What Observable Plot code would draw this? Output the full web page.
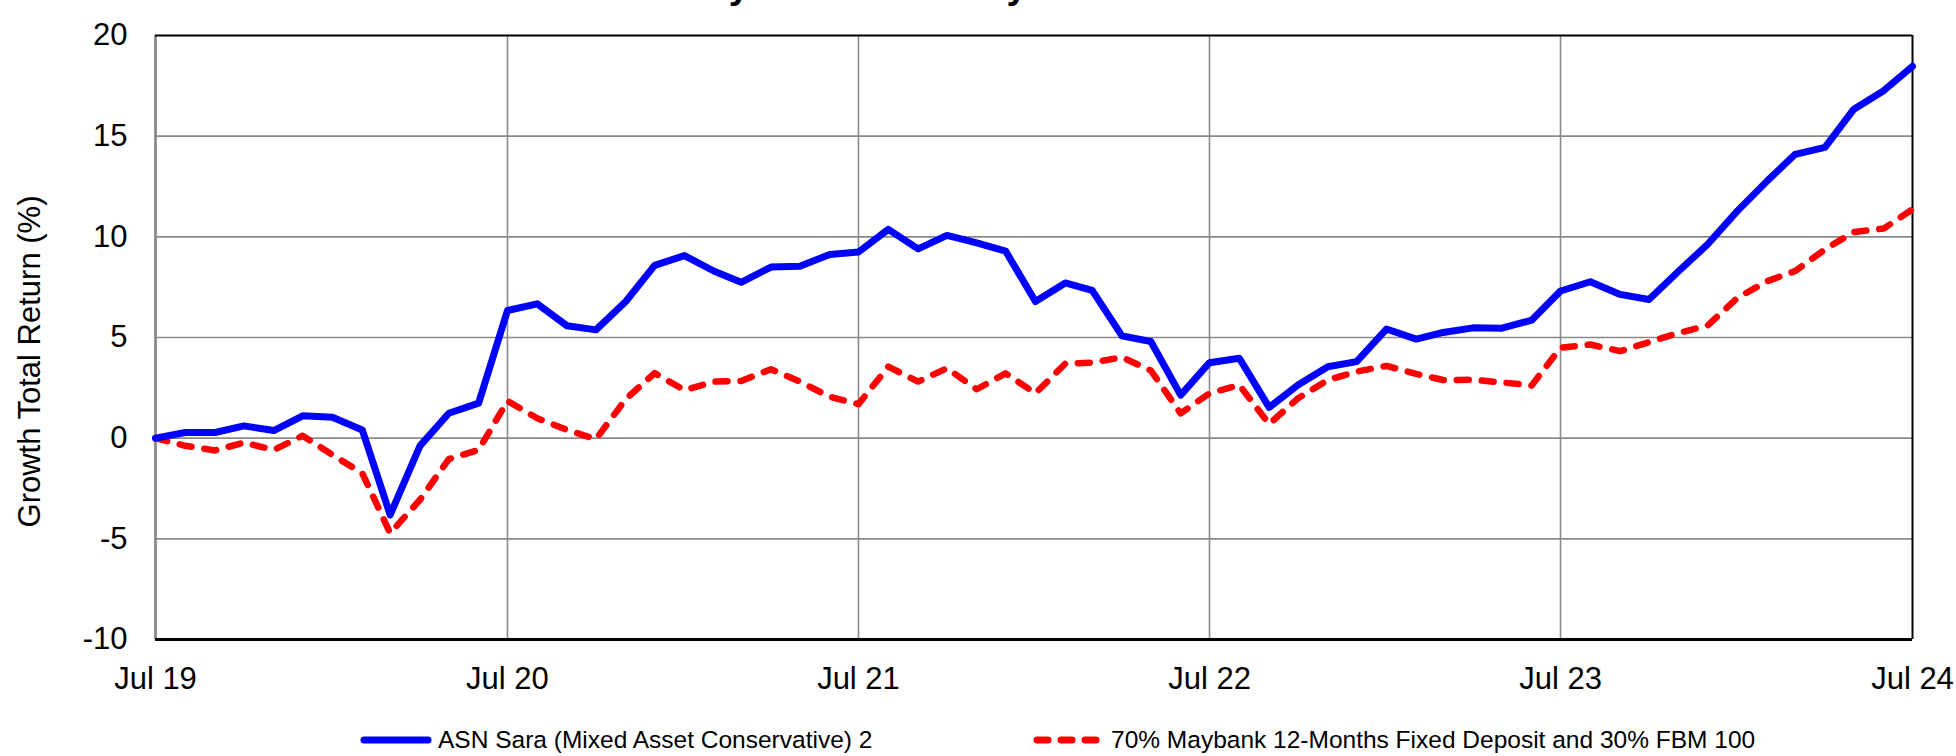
<!DOCTYPE html>
<html>
<head>
<meta charset="utf-8">
<script src="https://cdn.jsdelivr.net/npm/d3@7"></script>
<script src="https://cdn.jsdelivr.net/npm/@observablehq/plot@0.6"></script>
<style>
  html, body { margin: 0; padding: 0; background: #fff; }
  body { width: 1956px; height: 756px; position: relative; overflow: hidden;
         font-family: "Liberation Sans", Arial, sans-serif; color: #000; }
  #title { position: absolute; left: 16px; top: -33.5px; font-size: 37.6px; font-weight: bold;
           line-height: 1; white-space: nowrap; z-index: 2; }
  #chart { position: absolute; left: 0; top: 0; z-index: 1; }
  .lg { position: absolute; top: 725px; height: 30px; display: flex; align-items: center;
        font-size: 24.5px; white-space: nowrap; z-index: 2; }
  .lg svg { margin-right: 6px; }
</style>
</head>
<body>
<div id="title"></div>
<div id="chart"></div>
<div class="lg" id="lg1" style="left:360px"></div>
<div class="lg" id="lg2" style="left:1033px"></div>
<script>
// ---- data ----
const titleText = "5 Years Growth Total Return from 31 July 2019 to 31 July 2024";
const yLabel = "Growth Total Return (%)";
const seriesNames = ["ASN Sara (Mixed Asset Conservative) 2", "70% Maybank 12-Months Fixed Deposit and 30% FBM 100"];
const startMonth = new Date(Date.UTC(2019, 6, 1));
const endMonth = new Date(Date.UTC(2024, 6, 1));
const months = d3.utcMonth.range(startMonth, d3.utcMonth.offset(endMonth, 1));
const sara = [0, 0.28, 0.28, 0.61, 0.38, 1.11, 1.04, 0.41, -3.81, -0.38, 1.24, 1.74,
  6.34, 6.67, 5.58, 5.38, 6.79, 8.58, 9.07, 8.29, 7.74, 8.50, 8.54, 9.12,
  9.25, 10.37, 9.40, 10.07, 9.70, 9.29, 6.79, 7.71, 7.34, 5.08, 4.80, 2.14,
  3.75, 3.97, 1.53, 2.64, 3.55, 3.80, 5.42, 4.92, 5.25, 5.48, 5.46, 5.86,
  7.31, 7.77, 7.14, 6.89, 8.30, 9.63, 11.29, 12.78, 14.10, 14.44, 16.34, 17.26, 18.47];
const bench = [0, -0.38, -0.61, -0.22, -0.58, 0.12, -0.83, -1.74, -4.72, -3.06, -1.04, -0.58,
  1.85, 0.99, 0.41, -0.05, 1.94, 3.23, 2.39, 2.81, 2.84, 3.42, 2.81, 2.06,
  1.69, 3.55, 2.81, 3.47, 2.43, 3.22, 2.23, 3.70, 3.75, 4.02, 3.36, 1.23,
  2.23, 2.64, 0.70, 1.98, 2.89, 3.31, 3.59, 3.19, 2.89, 2.90, 2.77, 2.62,
  4.49, 4.65, 4.32, 4.77, 5.23, 5.60, 6.97, 7.80, 8.30, 9.38, 10.24, 10.41, 11.37];
const yTicks = [-10, -5, 0, 5, 10, 15, 20];
const xTicks = [2019, 2020, 2021, 2022, 2023, 2024].map(y => new Date(Date.UTC(y, 6, 1)));
const xTickLabels = ["Jul 19", "Jul 20", "Jul 21", "Jul 22", "Jul 23", "Jul 24"];
const colors = ["#0000ff", "#ff0000"];

// ---- build ----
document.getElementById("title").textContent = titleText;
const saraData = months.map((m, i) => ({date: m, value: sara[i]}));
const benchData = months.map((m, i) => ({date: m, value: bench[i]}));
const innerY = yTicks.filter(t => t > -10 && t < 20);
const innerX = xTicks.slice(1, -1);
const FONT = 31;

const chart = Plot.plot({
  width: 1956,
  height: 700,
  marginLeft: 155,
  marginRight: 44,
  marginTop: 35,
  marginBottom: 61,
  style: {fontFamily: '"Liberation Sans", Arial, sans-serif', fontSize: FONT + "px", color: "#000", background: "transparent", overflow: "visible"},
  x: {type: "utc", domain: [startMonth, endMonth]},
  y: {domain: [-10, 20]},
  marks: [
    Plot.ruleY(innerY, {stroke: "#8a8a8a", strokeWidth: 1.6}),
    Plot.ruleX(innerX, {stroke: "#8a8a8a", strokeWidth: 1.6}),
    Plot.ruleX([startMonth], {stroke: "#8a8a8a", strokeWidth: 2.8}),
    Plot.ruleX([endMonth], {stroke: "#000", strokeWidth: 2}),
    Plot.ruleY([20], {stroke: "#000", strokeWidth: 2}),
    Plot.ruleY([-10], {stroke: "#000", strokeWidth: 3}),
    Plot.axisY({ticks: yTicks, tickSize: 0, tickPadding: 28, fontSize: FONT, label: null, tickFormat: d => String(d)}),
    Plot.axisX({ticks: xTicks, tickSize: 0, tickPadding: 27, fontSize: FONT, label: null,
      tickFormat: d => xTickLabels[xTicks.findIndex(t => +t === +d)]}),
    Plot.text([yLabel], {frameAnchor: "left", textAnchor: "middle", rotate: -90, dx: -125, dy: 24, fontSize: FONT, fill: "#000"}),
    Plot.line(benchData, {x: "date", y: "value", stroke: colors[1], strokeWidth: 6.5, strokeDasharray: "12,13", strokeLinecap: "round", strokeLinejoin: "round"}),
    Plot.line(saraData, {x: "date", y: "value", stroke: colors[0], strokeWidth: 7, strokeLinejoin: "round"})
  ]
});
document.getElementById("chart").appendChild(chart);

// ---- legend ----
function legendItem(el, name, color, dashed) {
  const ns = "http://www.w3.org/2000/svg";
  const svg = document.createElementNS(ns, "svg");
  svg.setAttribute("width", 72); svg.setAttribute("height", 12);
  const line = document.createElementNS(ns, "line");
  line.setAttribute("x1", 4); line.setAttribute("x2", 68);
  line.setAttribute("y1", 6); line.setAttribute("y2", 6);
  line.setAttribute("stroke", color); line.setAttribute("stroke-width", 7);
  line.setAttribute("stroke-linecap", "round");
  if (dashed) line.setAttribute("stroke-dasharray", "11,13");
  svg.appendChild(line);
  el.appendChild(svg);
  const span = document.createElement("span");
  span.textContent = name;
  el.appendChild(span);
}
legendItem(document.getElementById("lg1"), seriesNames[0], colors[0], false);
legendItem(document.getElementById("lg2"), seriesNames[1], colors[1], true);
</script>
</body>
</html>
